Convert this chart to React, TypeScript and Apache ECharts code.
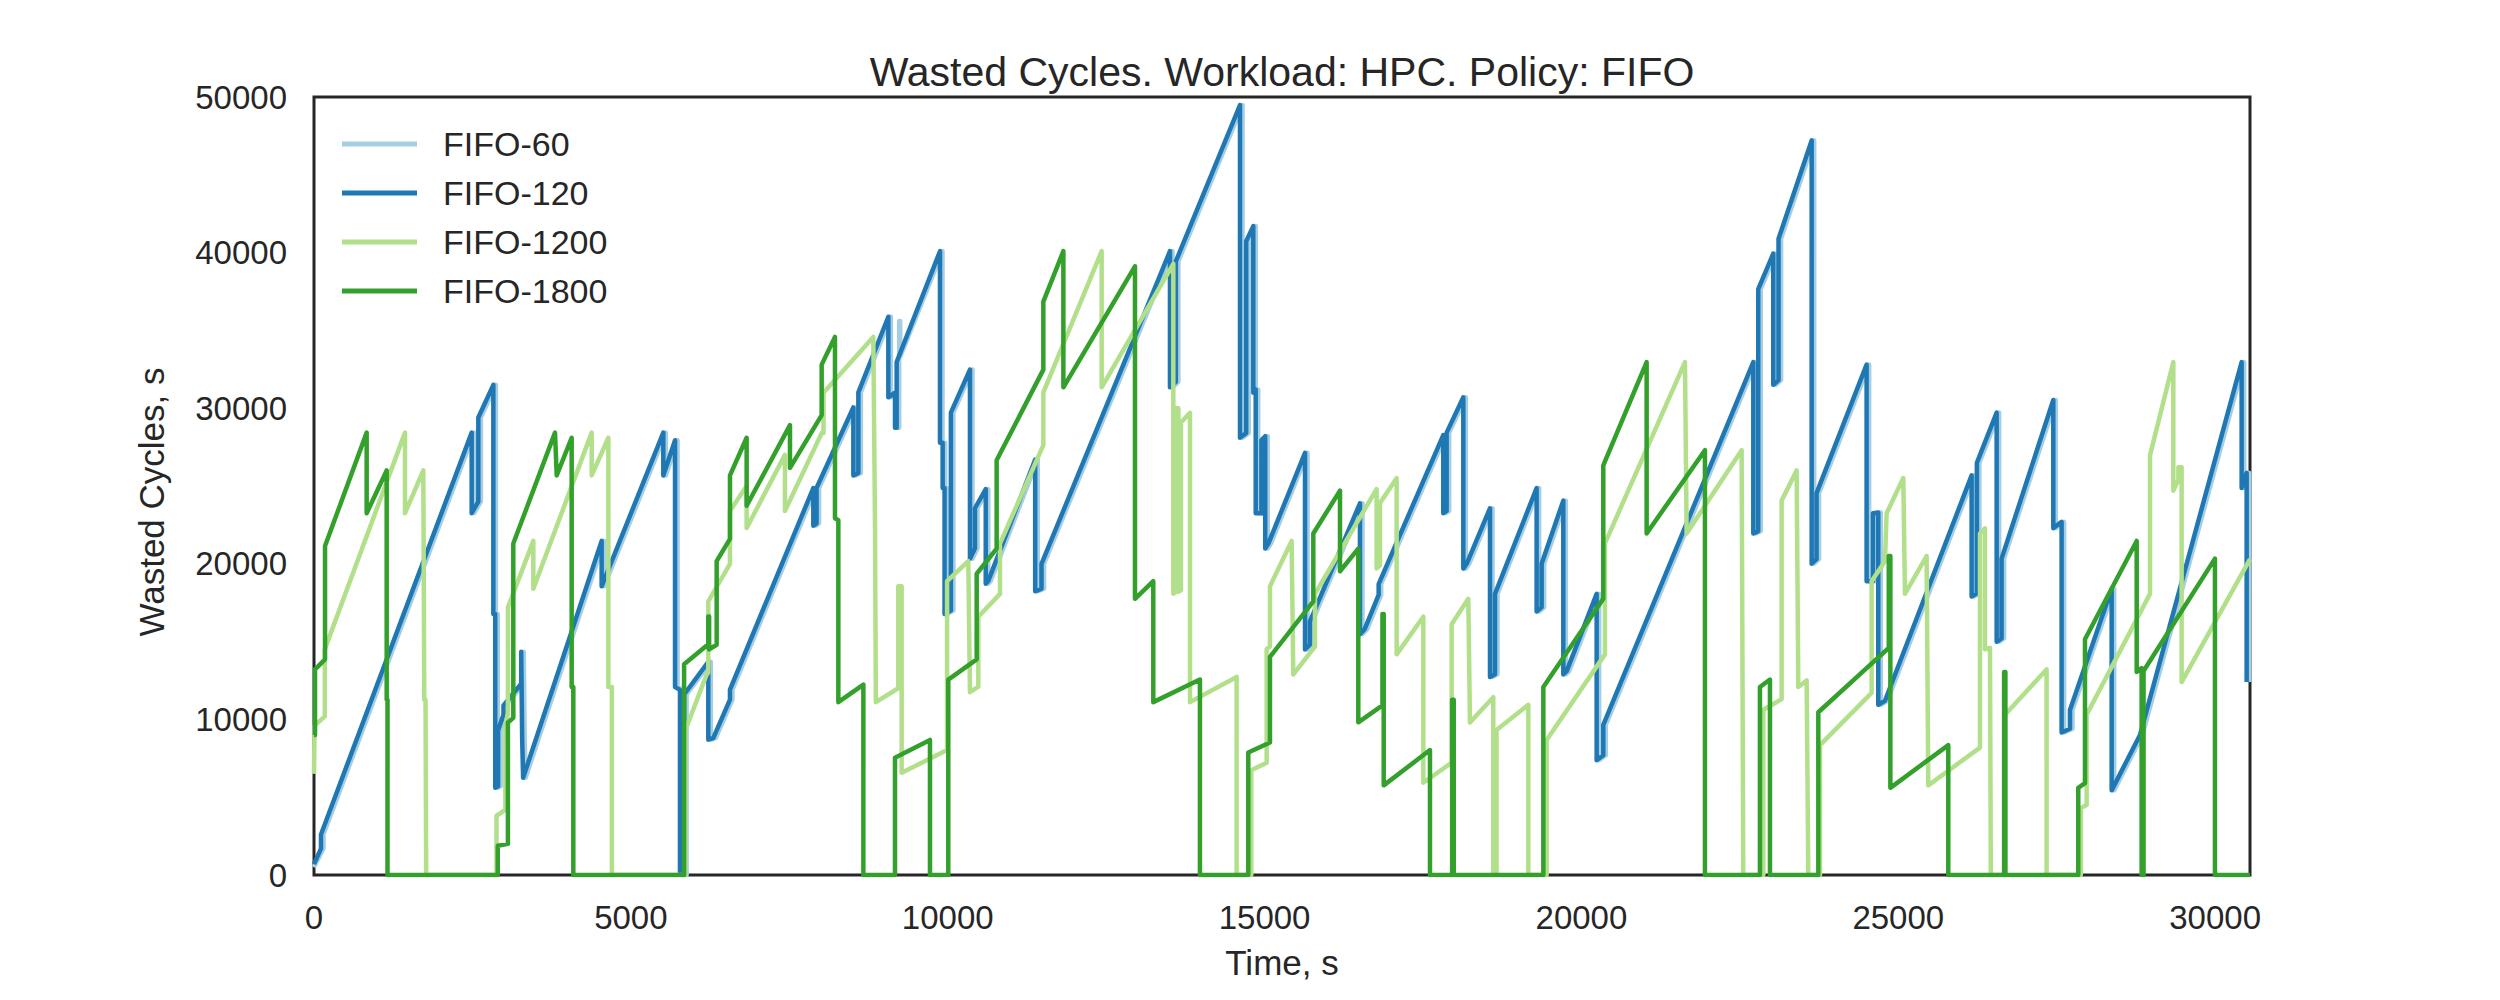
import React, { useEffect, useRef } from "react";
import * as echarts from "echarts";

const FONT = "'Liberation Sans', Arial, sans-serif";
const TEXT = "#262626";

const titleText = "Wasted Cycles. Workload: HPC. Policy: FIFO";
const seriesNames = ["FIFO-60", "FIFO-120", "FIFO-1200", "FIFO-1800"];
const seriesColors = ["#a6cee3", "#1f78b4", "#b2df8a", "#33a02c"];
const xTicks = [0, 5000, 10000, 15000, 20000, 25000, 30000];
const yTicks = [0, 10000, 20000, 30000, 40000, 50000];

const fifo60: [number, number][] = [
  [0, 500], [150, 1700], [150, 2600], [2528, 28430], [2528, 23250], [2633, 24000], [2633, 29400], [2870, 31500], [2870, 16770], [2900, 16770], [2900, 5600], [2945, 5700], [2945, 9300], [3030, 10300], [3030, 10900], [3310, 12300], [3310, 14350], [3325, 8700], [3340, 6250], [4579, 21470], [4579, 18550], [5552, 28430], [5552, 25680], [5737, 27940], [5737, 12080], [5815, 11900], [5815, 0], [5880, 0], [5880, 11600], [6262, 13700], [6262, 8700], [6340, 8800], [6604, 11270], [6604, 11920], [7919, 24870], [7919, 22440], [7970, 22600], [7970, 24870], [8551, 30050], [8551, 25680], [8630, 25840], [8630, 31020], [9103, 35880], [9103, 30700], [9208, 31000], [9208, 28750], [9234, 28750], [9234, 35600], [9250, 35600], [9250, 33300], [9918, 40090], [9918, 27780], [9960, 27780], [9960, 24870], [9990, 24870], [9990, 16770], [10090, 17000], [10090, 29720], [10391, 32480], [10391, 20330], [10470, 21000], [10470, 23570], [10640, 24800], [10640, 18720], [10680, 18900], [11420, 26700], [11420, 18230], [11520, 18400], [11520, 20000], [13547, 40090], [13547, 31340], [13640, 31700], [13640, 39440], [14652, 49480], [14652, 28100], [14750, 28400], [14750, 40730], [14862, 41700], [14862, 31000], [14900, 31200], [14900, 23250], [14990, 23250], [14990, 27950], [15050, 28200], [15050, 20980], [15100, 21300], [15678, 27130], [15678, 14500], [15756, 14800], [15756, 16300], [16545, 23890], [16545, 15480], [16620, 15800], [16840, 18000], [16840, 18700], [17860, 28270], [17860, 23250], [17913, 23400], [17913, 28430], [18176, 30700], [18176, 19690], [18229, 20000], [18597, 23570], [18597, 12730], [18676, 12900], [18676, 18070], [19333, 24870], [19333, 16930], [19412, 17200], [19412, 20010], [19754, 24060], [19754, 12890], [19807, 13100], [20280, 18070], [20280, 7380], [20385, 7700], [20385, 9650], [22752, 32960], [22752, 21950], [22830, 22100], [22830, 37660], [23067, 39930], [23067, 31500], [23150, 31800], [23150, 40890], [23673, 47210], [23673, 20010], [23750, 20300], [23750, 24540], [24540, 32800], [24540, 18880], [24640, 18880], [24640, 23250], [24724, 23300], [24724, 10940], [24830, 11200], [26197, 25680], [26197, 17900], [26280, 18100], [26280, 26490], [26592, 29720], [26592, 14990], [26670, 15200], [26670, 20330], [27486, 30530], [27486, 22280], [27617, 22700], [27617, 9160], [27749, 9400], [27749, 10600], [28407, 18390], [28407, 5440], [28854, 9000], [30458, 32960], [30458, 24870], [30537, 25840], [30537, 12400],
];

const fifo120: [number, number][] = [
  [0, 700], [110, 1700], [110, 2600], [2488, 28430], [2488, 23250], [2593, 24000], [2593, 29400], [2830, 31500], [2830, 16770], [2860, 16770], [2860, 5600], [2905, 5700], [2905, 9300], [2990, 10300], [2990, 10900], [3270, 12300], [3270, 14350], [3285, 8700], [3300, 6250], [4539, 21470], [4539, 18550], [5512, 28430], [5512, 25680], [5697, 27940], [5697, 12080], [5775, 11900], [5775, 0], [5840, 0], [5840, 11600], [6222, 13700], [6222, 8700], [6300, 8800], [6564, 11270], [6564, 11920], [7879, 24870], [7879, 22440], [7930, 22600], [7930, 24870], [8511, 30050], [8511, 25680], [8590, 25840], [8590, 31020], [9063, 35880], [9063, 30700], [9168, 31000], [9168, 28750], [9194, 28750], [9194, 32960], [9878, 40090], [9878, 27780], [9920, 27780], [9920, 24870], [9950, 24870], [9950, 16770], [10050, 17000], [10050, 29720], [10351, 32480], [10351, 20330], [10430, 21000], [10430, 23570], [10600, 24800], [10600, 18720], [10640, 18900], [11380, 26700], [11380, 18230], [11480, 18400], [11480, 20000], [13507, 40090], [13507, 31340], [13600, 31700], [13600, 39440], [14612, 49480], [14612, 28100], [14710, 28400], [14710, 40730], [14822, 41700], [14822, 31000], [14860, 31200], [14860, 23250], [14950, 23250], [14950, 27950], [15010, 28200], [15010, 20980], [15060, 21300], [15638, 27130], [15638, 14500], [15716, 14800], [15716, 16300], [16505, 23890], [16505, 15480], [16580, 15800], [16800, 18000], [16800, 18700], [17820, 28270], [17820, 23250], [17873, 23400], [17873, 28430], [18136, 30700], [18136, 19690], [18189, 20000], [18557, 23570], [18557, 12730], [18636, 12900], [18636, 18070], [19293, 24870], [19293, 16930], [19372, 17200], [19372, 20010], [19714, 24060], [19714, 12890], [19767, 13100], [20240, 18070], [20240, 7380], [20345, 7700], [20345, 9650], [22712, 32960], [22712, 21950], [22790, 22100], [22790, 37660], [23027, 39930], [23027, 31500], [23110, 31800], [23110, 40890], [23633, 47210], [23633, 20010], [23710, 20300], [23710, 24540], [24500, 32800], [24500, 18880], [24600, 18880], [24600, 23250], [24684, 23300], [24684, 10940], [24790, 11200], [26157, 25680], [26157, 17900], [26240, 18100], [26240, 26490], [26552, 29720], [26552, 14990], [26630, 15200], [26630, 20330], [27446, 30530], [27446, 22280], [27577, 22700], [27577, 9160], [27709, 9400], [27709, 10600], [28367, 18390], [28367, 5440], [28814, 9000], [30418, 32960], [30418, 24870], [30497, 25840], [30497, 12400],
];

const fifo1200: [number, number][] = [
  [0, 6500], [10, 6500], [10, 9600], [170, 10200], [170, 14500], [1436, 28430], [1436, 23250], [1725, 26000], [1740, 11270], [1760, 11270], [1770, 0], [2880, 0], [2880, 3800], [3020, 4200], [3020, 9600], [3060, 10400], [3060, 17200], [3461, 21470], [3461, 18400], [4382, 28430], [4382, 25680], [4645, 28100], [4645, 12080], [4700, 12080], [4700, 0], [5860, 0], [5860, 9300], [6196, 12890], [6222, 13000], [6222, 17580], [6564, 20000], [6564, 23400], [6827, 25000], [6827, 22300], [7432, 27000], [7432, 23400], [8011, 28400], [8040, 28400], [8040, 31000], [8826, 34580], [8853, 22280], [8866, 11110], [9220, 12000], [9220, 18550], [9273, 18550], [9273, 6570], [9990, 8030], [9990, 18880], [10325, 20170], [10351, 11750], [10483, 12100], [10483, 16600], [10825, 18070], [10825, 21300], [11509, 27630], [11509, 31020], [12429, 40090], [12429, 31340], [13560, 39280], [13560, 18070], [13600, 18200], [13600, 30000], [13640, 30000], [13640, 18200], [13680, 18300], [13680, 29080], [13823, 29700], [13823, 11110], [14559, 12730], [14559, 0], [14790, 0], [14790, 6730], [15033, 7220], [15033, 14510], [15085, 14700], [15085, 18550], [15427, 21470], [15453, 12890], [15795, 14670], [15795, 18070], [16768, 24800], [16768, 19700], [16821, 19900], [16821, 23900], [17084, 25500], [17084, 14180], [17505, 16600], [17505, 5930], [17952, 7220], [17952, 16120], [18215, 17750], [18241, 9800], [18609, 11430], [18609, 0], [18660, 0], [18660, 9320], [19162, 10940], [19162, 0], [19451, 0], [19451, 8680], [20371, 14180], [20371, 21310], [21634, 32960], [21660, 21950], [22528, 27300], [22554, 0], [22870, 0], [22870, 10620], [23159, 11300], [23159, 24060], [23396, 26000], [23422, 12080], [23554, 12500], [23580, 0], [23764, 0], [23764, 8350], [24579, 11700], [24579, 18880], [24790, 20170], [24816, 23250], [25079, 25510], [25105, 18070], [25447, 20500], [25473, 5760], [26289, 8190], [26289, 21950], [26368, 22280], [26368, 14510], [26447, 14600], [26460, 0], [26684, 0], [26684, 10300], [27340, 13210], [27340, 0], [27880, 0], [27880, 4300], [27972, 4500], [27972, 10300], [28972, 18070], [28972, 26970], [29340, 32960], [29340, 24700], [29420, 25400], [29420, 26200], [29471, 26200], [29471, 12400], [30550, 20300],
];

const fifo1800: [number, number][] = [
  [0, 8990], [16, 8990], [16, 13210], [174, 13860], [174, 21140], [831, 28430], [831, 23250], [1147, 26000], [1147, 11270], [1160, 11270], [1160, 0], [2900, 0], [2900, 1880], [3060, 2000], [3060, 9800], [3145, 10100], [3145, 21300], [3803, 28430], [3830, 25680], [4066, 28100], [4066, 12080], [4092, 12080], [4092, 0], [5840, 0], [5840, 13540], [6222, 14830], [6222, 16610], [6235, 16610], [6235, 14500], [6354, 14800], [6354, 20170], [6564, 21600], [6564, 25680], [6827, 28100], [6827, 23730], [7511, 28910], [7511, 26160], [8011, 29560], [8011, 32800], [8221, 34580], [8221, 22930], [8274, 22800], [8274, 11110], [8669, 12240], [8669, 0], [9168, 0], [9168, 7540], [9720, 8680], [9720, 0], [10009, 0], [10009, 12560], [10457, 13860], [10457, 19360], [10772, 20980], [10772, 26650], [11509, 32480], [11509, 36850], [11825, 40090], [11825, 31340], [12955, 39120], [12955, 17750], [13244, 18880], [13244, 11110], [13980, 12560], [13980, 0], [14743, 0], [14743, 7870], [15085, 8520], [15085, 14020], [15769, 17580], [15769, 21950], [16190, 24700], [16190, 19520], [16479, 20980], [16479, 9810], [16860, 10900], [16860, 16770], [16880, 16770], [16880, 5760], [17610, 8030], [17610, 0], [17960, 0], [17960, 11270], [17985, 11270], [17985, 0], [19399, 0], [19399, 12080], [20345, 17750], [20345, 26330], [21029, 32960], [21029, 21950], [21949, 27300], [21949, 0], [22817, 0], [22817, 12080], [22975, 12560], [22975, 0], [23738, 0], [23738, 10460], [24850, 14600], [24850, 20500], [24875, 20500], [24875, 5600], [25789, 8350], [25789, 0], [26670, 0], [26670, 13050], [26690, 13050], [26690, 0], [27840, 0], [27840, 5600], [27946, 5900], [27946, 15150], [28762, 21470], [28762, 13050], [28840, 13300], [28840, 0], [28870, 0], [28870, 13110], [29997, 20330], [29997, 0], [30550, 0],
];

const seriesData = [fifo60, fifo120, fifo1200, fifo1800];

export default function App() {
  const ref = useRef<HTMLDivElement>(null);
  useEffect(() => {
    const chart = echarts.init(ref.current!, null, { renderer: "svg" });
    chart.setOption({
      animation: false,
      backgroundColor: "#ffffff",
      title: {
        text: titleText,
        left: 1282,
        top: 51,
        textAlign: "center",
        padding: 0,
        textStyle: { fontFamily: FONT, fontSize: 41, fontWeight: "normal", color: TEXT },
      },
      legend: {
        orient: "vertical",
        left: 342,
        top: 124,
        padding: 0,
        itemGap: 9,
        itemWidth: 75,
        itemHeight: 5,
        icon: "rect",
        data: seriesNames,
        textStyle: { fontFamily: FONT, fontSize: 34, color: TEXT, lineHeight: 40, padding: [0, 0, 0, 21] },
      },
      grid: { left: 314, right: 250, top: 97, bottom: 125, show: true, borderColor: TEXT, borderWidth: 3, backgroundColor: "transparent" },
      xAxis: {
        type: "value",
        min: 0,
        max: 30550,
        interval: 5000,
        axisLine: { show: false },
        axisTick: { show: false },
        splitLine: { show: false },
        axisLabel: {
          fontFamily: FONT,
          fontSize: 33,
          color: TEXT,
          margin: 26,
          formatter: (v: number) => (xTicks.includes(v) ? String(v) : ""),
        },
        name: "Time, s",
        nameLocation: "middle",
        nameGap: 70,
        nameTextStyle: { fontFamily: FONT, fontSize: 35, color: TEXT },
      },
      yAxis: {
        type: "value",
        min: 0,
        max: 50000,
        interval: 10000,
        axisLine: { show: false },
        axisTick: { show: false },
        splitLine: { show: false },
        axisLabel: {
          fontFamily: FONT,
          fontSize: 33,
          color: TEXT,
          margin: 27,
          formatter: (v: number) => (yTicks.includes(v) ? String(v) : ""),
        },
        name: "Wasted Cycles, s",
        nameLocation: "middle",
        nameGap: 145,
        nameRotate: 90,
        nameTextStyle: { fontFamily: FONT, fontSize: 35, color: TEXT, padding: [0, 32, 0, 0] },
      },
      series: seriesNames.map((name, i) => ({
        name,
        type: "line",
        data: seriesData[i],
        symbol: "none",
        showSymbol: false,
        silent: true,
        color: seriesColors[i],
        lineStyle: { width: 4.5, color: seriesColors[i], join: "round", cap: "butt" },
        emphasis: { disabled: true },
        z: 2 + i,
      })),
    });
    return () => chart.dispose();
  }, []);
  return (
    <div
      ref={ref}
      style={{ position: "fixed", left: 0, top: 0, width: 2500, height: 1000, background: "#ffffff" }}
    />
  );
}
